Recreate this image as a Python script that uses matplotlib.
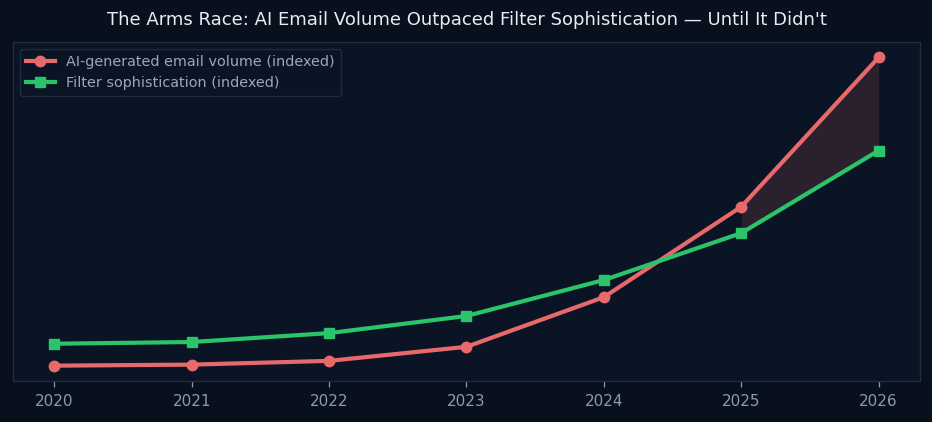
import matplotlib
matplotlib.use("Agg")
import matplotlib.pyplot as plt
import numpy as np

years = [2020, 2021, 2022, 2023, 2024, 2025, 2026]
ai_volume = [10, 10.3, 11.4, 15.5, 30.0, 56.4, 100]
filter_soph = [16.4, 16.9, 19.5, 24.5, 35.0, 48.7, 72.8]

title = "The Arms Race: AI Email Volume Outpaced Filter Sophistication \u2014 Until It Didn't"
label_ai = "AI-generated email volume (indexed)"
label_filter = "Filter sophistication (indexed)"

fig_bg = "#07101c"
ax_bg = "#0b1424"
red = "#e8696b"
green = "#2bc46a"

fig = plt.figure(figsize=(9.32, 4.22), dpi=100, facecolor=fig_bg)
ax = fig.add_axes([0.014, 0.097, 0.973, 0.8035])
ax.set_facecolor(ax_bg)

ax.plot(years, ai_volume, color=red, lw=3, marker="o", ms=7.5, label=label_ai, zorder=3)
ax.plot(years, filter_soph, color=green, lw=3, marker="s", ms=7.5, label=label_filter, zorder=3)

x = np.array(years)
ax.fill_between(x, ai_volume, filter_soph, where=(x >= 2025), color=red, alpha=0.15, lw=0, zorder=2)

ax.set_yticks([])
ax.set_xticks(years)
ax.tick_params(axis="x", colors="#8a9ab0", labelsize=11, length=4.5, width=0.9, pad=5)
for s in ax.spines.values():
    s.set_color("#1e2d40")
    s.set_linewidth(1)

ax.set_title(title, color="#e8edf3", fontsize=13, pad=12)

leg = ax.legend(loc="upper left", fontsize=10.4, facecolor=ax_bg, edgecolor="#1e2d40",
                framealpha=1, handlelength=2.0, borderaxespad=0.5)
for t in leg.get_texts():
    t.set_color("#9aa8bb")

fig.savefig("out.png", dpi=100, facecolor=fig_bg)
